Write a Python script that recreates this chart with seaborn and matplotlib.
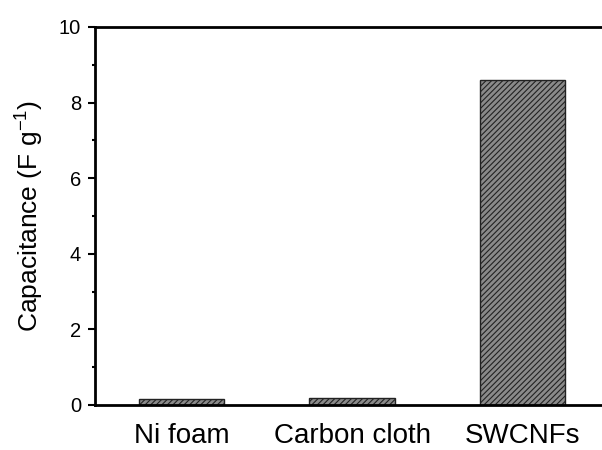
import matplotlib
matplotlib.use("Agg")
import matplotlib.pyplot as plt
import seaborn as sns
import pandas as pd
from matplotlib.ticker import MultipleLocator

categories = ["Ni foam", "Carbon cloth", "SWCNFs"]
capacitance = [0.15, 0.19, 8.6]

sns.set_theme(style="ticks")
plt.rcParams['font.family'] = ['Liberation Sans', 'DejaVu Sans']
plt.rcParams['mathtext.fontset'] = 'custom'
plt.rcParams['mathtext.rm'] = 'Liberation Sans'
plt.rcParams['mathtext.it'] = 'Liberation Sans'
plt.rcParams['hatch.linewidth'] = 0.8
plt.rcParams['hatch.color'] = '#2a2a2a'

df = pd.DataFrame({"cat": categories, "cap": capacitance})

fig = plt.figure(figsize=(6.02, 4.5), dpi=100)
ax = fig.add_axes([95/602, 45/450, 514/602, 378/450])

sns.barplot(data=df, x="cat", y="cap", ax=ax, color="#888888", width=0.5,
            edgecolor="#222222", linewidth=1.0, saturation=1)
for p in ax.patches:
    p.set_hatch("//////")
    p.set_facecolor("#8a8a8a")

ax.set_xlim(-0.51, 2.51)
ax.set_ylim(0, 10)
ax.yaxis.set_major_locator(MultipleLocator(2))
ax.yaxis.set_minor_locator(MultipleLocator(1))
ax.set_xlabel("")
ax.set_ylabel("Capacitance (F g$^{\u2212\\mathrm{1}}$)", fontsize=19, labelpad=9, color='black')
ax.tick_params(axis='y', which='major', direction='out', length=5, width=1.5,
               labelsize=14.5, pad=5, color='black', labelcolor='black')
ax.tick_params(axis='y', which='minor', direction='out', length=2.5, width=1.5, color='black')
ax.tick_params(axis='x', which='both', length=0, labelsize=20, pad=13, labelcolor='black')
for s in ["left", "top", "bottom", "right"]:
    ax.spines[s].set_linewidth(2)
    ax.spines[s].set_color("black")
ax.spines["right"].set_visible(False)

fig.savefig("out.png", dpi=100)
